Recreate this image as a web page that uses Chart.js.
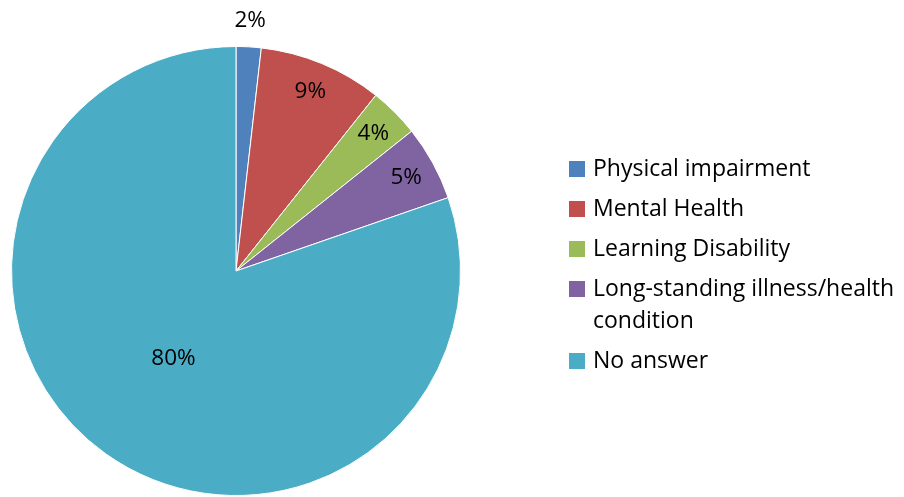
<!DOCTYPE html>
<html>
<head>
<meta charset="utf-8">
<script src="https://cdn.jsdelivr.net/npm/chart.js@4.4.1/dist/chart.umd.min.js"></script>
<style>
  html, body { margin: 0; padding: 0; background: #fff; }
  #wrap { width: 904px; height: 497px; position: relative; }
</style>
</head>
<body>
<div id="wrap"><canvas id="pieChart"></canvas></div>
<script>
// Data (percent of respondents)
const categories = ['Physical impairment', 'Mental Health', 'Learning Disability', 'Long-standing illness/health condition', 'No answer'];
const values = [1.8, 8.9, 3.6, 5.4, 80.3];
const percentLabels = ['2%', '9%', '4%', '5%', '80%'];
const sliceColors = ['#4F81BD', '#C0504D', '#9BBB59', '#8064A2', '#4BACC6'];

const FONT = '"Open Sans", "Liberation Sans", sans-serif';

// Percent labels on / beside the slices
const sliceLabels = {
    id: 'sliceLabels',
    afterDatasetsDraw(chart) {
        const ctx = chart.ctx;
        const arcs = chart.getDatasetMeta(0).data;
        ctx.save();
        ctx.font = '22.5px ' + FONT;
        ctx.fillStyle = '#000';
        ctx.textAlign = 'center';
        ctx.textBaseline = 'middle';
        arcs.forEach((arc, i) => {
            const mid = (arc.startAngle + arc.endAngle) / 2;
            const R = arc.outerRadius;
            let r;
            if (values[i] < 3) r = R + 26;        // tiny slice: label outside
            else if (values[i] > 50) r = R * 0.48; // big slice
            else r = R * 0.865;
            const x = arc.x + Math.cos(mid) * r;
            const y = arc.y + Math.sin(mid) * r;
            ctx.fillText(percentLabels[i], x, y);
        });
        ctx.restore();
    }
};

// Legend on the right, wrapping long names
const sideLegend = {
    id: 'sideLegend',
    afterDraw(chart) {
        const ctx = chart.ctx;
        const items = Chart.overrides.pie.plugins.legend.labels.generateLabels(chart);
        const boxX = 569, box = 16, textX = 593, maxW = chart.width - textX - 4;
        let y = 169;
        ctx.save();
        ctx.font = '23px ' + FONT;
        ctx.textBaseline = 'middle';
        items.forEach(item => {
            // word wrap
            const words = item.text.split(' ');
            const lines = [];
            let line = '';
            words.forEach(w => {
                const test = line ? line + ' ' + w : w;
                if (ctx.measureText(test).width > maxW && line) {
                    lines.push(line);
                    line = w;
                } else {
                    line = test;
                }
            });
            lines.push(line);

            ctx.fillStyle = item.fillStyle;
            ctx.fillRect(boxX, y - box / 2, box, box);
            ctx.fillStyle = '#000';
            lines.forEach((l, k) => ctx.fillText(l, textX, y + k * 32));
            y += (lines.length - 1) * 32 + 40;
        });
        ctx.restore();
    }
};

new Chart(document.getElementById('pieChart'), {
    type: 'pie',
    data: {
        labels: categories,
        datasets: [{
            data: values,
            backgroundColor: sliceColors,
            borderColor: '#ffffff',
            borderWidth: 1
        }]
    },
    options: {
        responsive: true,
        maintainAspectRatio: false,
        animation: false,
        layout: { padding: { left: 11, right: 443, top: 46, bottom: 1 } },
        plugins: {
            legend: { display: false },
            tooltip: { enabled: false }
        }
    },
    plugins: [sliceLabels, sideLegend]
});
</script>
</body>
</html>
